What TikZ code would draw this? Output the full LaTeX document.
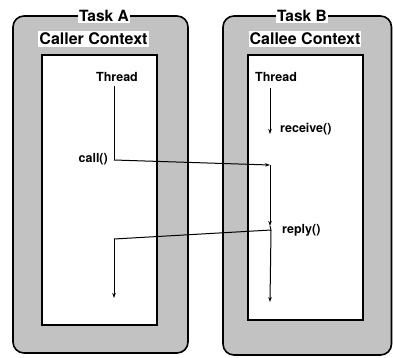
\documentclass[tikz,border=0pt]{standalone}
\usepackage{fontspec}
\setmainfont{TeX Gyre Heros}
\usetikzlibrary{arrows.meta}
\begin{document}
\begin{tikzpicture}[x=1pt,y=-1pt,
  taskbox/.style={draw=black,line width=1.6pt,fill=black!24,rounded corners=11pt},
  ctxbox/.style={draw=black,line width=1.6pt,fill=white},
  tasklabel/.style={fill=white,inner sep=1pt,font=\bfseries\fontsize{15.5}{16}\selectfont},
  ctxlabel/.style={fill=white,inner xsep=1pt,inner ysep=2pt,font=\bfseries\fontsize{16}{17}\selectfont},
  lbl/.style={inner sep=1pt,font=\bfseries\fontsize{12.5}{13}\selectfont},
  flow/.style={line width=1pt,-{Stealth[length=5pt,width=3.5pt]}},
  plain/.style={line width=1pt}]
\useasboundingbox (0,0) rectangle (393,357);

% task containers
\draw[taskbox] (13,16) rectangle (188,353);
\draw[taskbox] (223,16) rectangle (391.5,355);
% context areas
\draw[ctxbox] (42,55) rectangle (157,325);
\draw[ctxbox] (248,55) rectangle (363,320);

% titles
\node[tasklabel] (taskA) at (104,16) {Task A};
\node[tasklabel] (taskB) at (302,16) {Task B};
\node[ctxlabel] (callerctx) at (93.5,39) {Caller Context};
\node[ctxlabel] (calleectx) at (305,39) {Callee Context};

% thread labels
\node[lbl] (thA) at (117,77) {Thread};
\node[lbl,anchor=west] (thB) at (254,77) {Thread};
\node[lbl,anchor=east] (call) at (109,159) {call()};
\node[lbl,anchor=west] (recv) at (279,129) {receive()};
\node[lbl,anchor=west] (reply) at (281,230) {reply()};

% way points of the threads
\coordinate (a0) at (114,86);
\coordinate (a1) at (114,160);
\coordinate (a2) at (114,239);
\coordinate (a3) at (114,298);
\coordinate (b0) at (270,88);
\coordinate (b1) at (270,134);
\coordinate (b2) at (270,165);
\coordinate (b3) at (270,226);
\coordinate (b4) at (271,230);
\coordinate (b5) at (270,302);

% caller thread
\draw[plain] (a0) -- (a1);
\draw[flow] (a1) -- (b2);
% callee thread
\draw[flow] (b0) -- (b1);
\draw[flow] (b2) -- (b3);
\draw[plain] (b3) -- (b4);
\draw[plain] (b4) -- (a2);
\draw[flow] (a2) -- (a3);
\draw[flow] (b4) -- (b5);
\end{tikzpicture}
\end{document}
